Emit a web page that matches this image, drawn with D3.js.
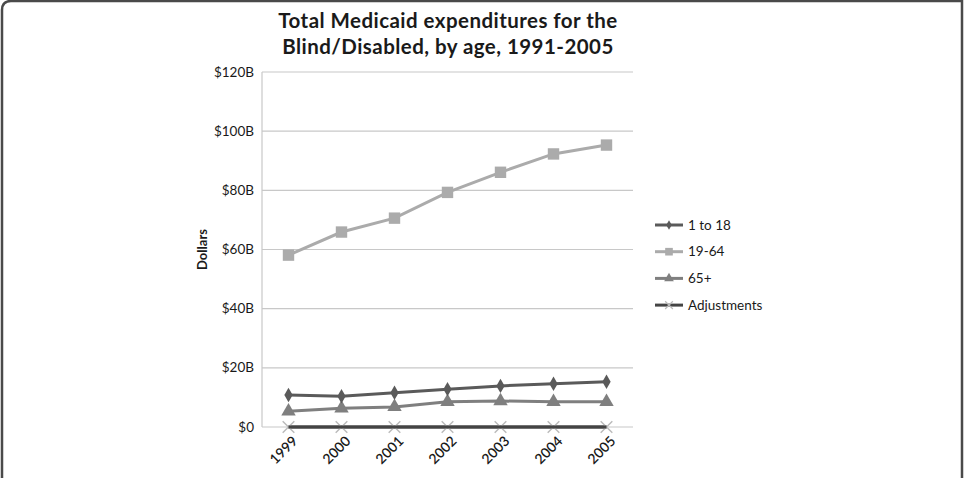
<!DOCTYPE html>
<html>
<head>
<meta charset="utf-8">
<script src="https://cdn.jsdelivr.net/npm/d3@7"></script>
<style>
  body { margin: 0; background: #fff; }
  svg { display: block; }
  text { font-family: Lato, "Open Sans", sans-serif; fill: #1a1a1a; }
</style>
</head>
<body>
<svg id="chart" width="965" height="478"></svg>
<script>
const years = ["1999", "2000", "2001", "2002", "2003", "2004", "2005"];
const age1to18 = [10.8, 10.4, 11.6, 12.8, 13.9, 14.6, 15.3];
const age19to64 = [58.1, 65.9, 70.6, 79.3, 86.1, 92.3, 95.3];
const age65plus = [5.3, 6.3, 6.8, 8.5, 8.8, 8.5, 8.5];
const adjustments = [0, 0, 0, 0, 0, 0, 0];
const yTicks = [0, 20, 40, 60, 80, 100, 120];

const series = [
    { name: "1 to 18", values: age1to18, line: "#5a5a5a", fill: "#5a5a5a", symbol: d3.symbolDiamond, size: 60 },
    { name: "19-64", values: age19to64, line: "#ababab", fill: "#ababab", symbol: d3.symbolSquare, size: 130 },
    { name: "65+", values: age65plus, line: "#7f7f7f", fill: "#7f7f7f", symbol: d3.symbolTriangle, size: 90 },
    { name: "Adjustments", values: adjustments, line: "#444", fill: "#bbb", symbol: d3.symbolX, size: 90 }
];

const svg = d3.select("#chart");

// frame
svg.append("path")
    .attr("d", "M2,490 L2,10 Q2,1 11,1 L962,1 L962,490")
    .attr("fill", "none")
    .attr("stroke", "#4a4a4a")
    .attr("stroke-width", 2.5);

const pLeft = 262, pRight = 633, pTop = 72, pBottom = 427;

let xScale = d3.scaleBand().domain(years).range([pLeft, pRight]);
let yScale = d3.scaleLinear().domain([0, 120]).range([pBottom, pTop]);

// title
const title = svg.append("text")
    .attr("text-anchor", "middle")
    .style("font-size", "20.5px")
    .style("font-weight", "bold")
    .style("letter-spacing", "0.45px");
title.append("tspan").attr("x", 448).attr("y", 28).text("Total Medicaid expenditures for the");
title.append("tspan").attr("x", 448).attr("y", 54).text("Blind/Disabled, by age, 1991-2005");

// grid
svg.append("g")
    .selectAll("line")
    .data(yTicks)
    .enter()
    .append("line")
    .attr("x1", pLeft)
    .attr("x2", pRight)
    .attr("y1", d => yScale(d))
    .attr("y2", d => yScale(d))
    .attr("stroke", "#c8c8c8")
    .attr("stroke-width", 1.2);

svg.append("line")
    .attr("x1", pLeft).attr("x2", pLeft)
    .attr("y1", pTop).attr("y2", pBottom)
    .attr("stroke", "#c8c8c8")
    .attr("stroke-width", 1.2);

// y labels
svg.append("g")
    .selectAll("text")
    .data(yTicks)
    .enter()
    .append("text")
    .attr("x", pLeft - 8)
    .attr("y", d => yScale(d) + 4.5)
    .attr("text-anchor", "end")
    .style("font-size", "13.5px")
    .text(d => d == 0 ? "$0" : `$${d}B`);

svg.append("text")
    .attr("transform", `translate(207, ${yScale(60)}) rotate(-90)`)
    .attr("text-anchor", "middle")
    .style("font-size", "13px")
    .style("font-weight", "bold")
    .text("Dollars");

// x labels
svg.append("g")
    .selectAll("text")
    .data(years)
    .enter()
    .append("text")
    .attr("transform", d => `translate(${xScale(d) + xScale.bandwidth() / 2 + 10}, ${pBottom + 15}) rotate(-45)`)
    .attr("text-anchor", "end")
    .style("font-size", "14px")
    .style("font-weight", "600")
    .text(d => d);

function setX(d, i) { return xScale(years[i]) + xScale.bandwidth() / 2; }

let line = d3.line()
    .x((d, i) => setX(d, i))
    .y(d => yScale(d));

// draw 19-64 first, adjustments last line
const order = [1, 2, 0, 3];
order.forEach(k => {
    const s = series[k];
    const g = svg.append("g");
    g.append("path")
        .attr("d", line(s.values))
        .attr("fill", "none")
        .attr("stroke", s.line)
        .attr("stroke-width", 3);
    g.selectAll("path.mark")
        .data(s.values)
        .enter()
        .append("path")
        .attr("class", "mark")
        .attr("transform", (d, i) => `translate(${setX(d, i)}, ${yScale(d)})`)
        .attr("d", d3.symbol().type(s.symbol).size(s.size))
        .attr("fill", s.fill)
        .attr("stroke", s.symbol == d3.symbolX ? s.fill : "none")
        .attr("stroke-width", 1.5);
});
// adjustments line drawn over its markers
svg.append("path")
    .attr("d", line(adjustments))
    .attr("fill", "none")
    .attr("stroke", "#444")
    .attr("stroke-width", 3);

// legend
const legend = svg.append("g")
    .selectAll("g")
    .data(series)
    .enter()
    .append("g")
    .attr("transform", (d, i) => `translate(655, ${225 + i * 26.7})`);

legend.append("line")
    .attr("x1", 0).attr("x2", 28)
    .attr("stroke", d => d.line)
    .attr("stroke-width", 3);
legend.append("path")
    .attr("transform", "translate(14, 0)")
    .attr("d", d => d3.symbol().type(d.symbol).size(d.size * 0.45)())
    .attr("fill", d => d.fill)
    .attr("stroke", d => d.symbol == d3.symbolX ? d.fill : "none")
    .attr("stroke-width", 1.2);
legend.append("text")
    .attr("x", 33)
    .attr("y", 4.5)
    .style("font-size", "13.5px")
    .text(d => d.name);
</script>
</body>
</html>
